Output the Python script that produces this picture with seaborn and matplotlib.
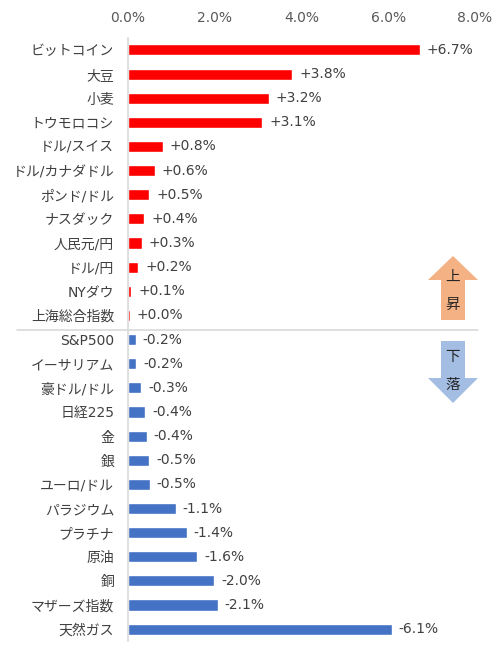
import matplotlib
matplotlib.use("Agg")
import matplotlib.pyplot as plt
import seaborn as sns
import pandas as pd
from matplotlib.patches import Polygon

# weekly change (%), bar length is the absolute value
names = ["ビットコイン", "大豆", "小麦", "トウモロコシ", "ドル/スイス", "ドル/カナダドル",
         "ポンド/ドル", "ナスダック", "人民元/円", "ドル/円", "NYダウ", "上海総合指数",
         "S&P500", "イーサリアム", "豪ドル/ドル", "日経225", "金", "銀", "ユーロ/ドル",
         "パラジウム", "プラチナ", "原油", "銅", "マザーズ指数", "天然ガス"]
changes = [6.73, 3.79, 3.24, 3.09, 0.80, 0.62, 0.49, 0.38, 0.32, 0.24, 0.07, 0.04,
           -0.18, -0.19, -0.31, -0.40, -0.43, -0.49, -0.50, -1.10, -1.35, -1.60,
           -1.98, -2.07, -6.08]
ticks = [0, 2, 4, 6, 8]

df = pd.DataFrame({"name": names, "change": changes})
df["size"] = df["change"].abs()
df["dir"] = ["up" if v >= 0 else "down" for v in df["change"]]

sns.set_theme(style="white")
plt.rcParams["font.family"] = ["DejaVu Sans", "Noto Sans CJK JP"]

fig = plt.figure(figsize=(5.0, 6.53), dpi=100)
ax = fig.add_axes([0.256, 0.018, 0.694, 0.924])

sns.barplot(data=df, y="name", x="size", hue="dir", orient="h",
            palette={"up": "#FF0000", "down": "#4472C4"}, width=0.46,
            saturation=1, dodge=False, legend=False, ax=ax)

ax.set_xlim(0, 8)
ax.set_xticks(ticks)
ax.set_xticklabels([f"{t:.1f}%" for t in ticks])
ax.xaxis.tick_top()
ax.tick_params(axis="x", length=0, pad=9, labelsize=10, labelcolor="#595959")
ax.tick_params(axis="y", length=0, pad=10, labelsize=10, labelcolor="#404040")
ax.set_xlabel("")
ax.set_ylabel("")
for s in ["top", "right", "bottom"]:
    ax.spines[s].set_visible(False)
ax.spines["left"].set_color("#D9D9D9")
ax.spines["left"].set_linewidth(1.2)

for i, (v, sz) in enumerate(zip(changes, df["size"])):
    lab = f"+{v:.1f}%" if v >= 0 else f"{v:.1f}%"
    ax.annotate(lab, (sz, i), xytext=(7, 0), textcoords="offset pixels",
                va="center", ha="left", fontsize=10, color="#404040")

# overlay in pixel coordinates for the divider and arrows
ov = fig.add_axes([0, 0, 1, 1], facecolor="none")
ov.set_xlim(0, 500)
ov.set_ylim(653, 0)
ov.axis("off")
ov.plot([17, 478], [330, 330], color="#D9D9D9", lw=1.2)

up = Polygon([(453, 256), (478, 280), (465, 280), (465, 320), (441, 320),
              (441, 280), (428, 280)], closed=True, color="#F4B183", lw=0)
down = Polygon([(441, 341), (465, 341), (465, 378), (478, 378), (453, 403),
                (428, 378), (441, 378)], closed=True, color="#A3BDE3", lw=0)
ov.add_patch(up)
ov.add_patch(down)
for t, y in [("上", 277), ("昇", 305), ("下", 357), ("落", 385)]:
    ov.text(453, y, t, ha="center", va="center", fontsize=10.5, color="#262626",
            family=["Noto Sans CJK JP"])

fig.savefig("out.png", dpi=100)
